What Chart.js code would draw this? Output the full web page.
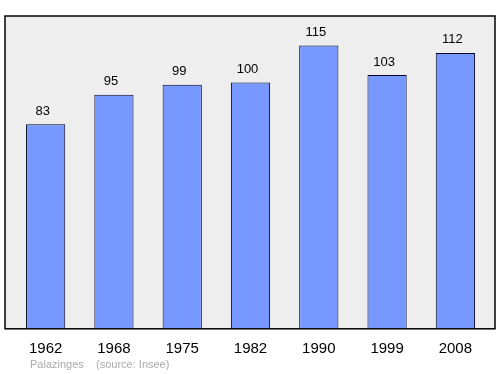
<!DOCTYPE html>
<html><head><meta charset="utf-8">
<script src="https://cdn.jsdelivr.net/npm/chart.js@4/dist/chart.umd.min.js"></script>
<style>html,body{margin:0;padding:0;background:#fff}#c{display:block}</style>
</head><body>
<canvas id="c" width="500" height="374"></canvas>
<script>
const years = ["1962","1968","1975","1982","1990","1999","2008"];
const population = [83, 95, 99, 100, 115, 103, 112];
const footerText = "Palazinges    (source: Insee)";

const framePlugin = {
  id: 'frame',
  beforeDraw(chart) {
    const {ctx, chartArea:a} = chart;
    ctx.save();
    ctx.fillStyle = '#eeeeee';
    ctx.fillRect(a.left - 6.5, a.top, a.right - a.left + 12, a.bottom - a.top + 0.5);
    ctx.restore();
  },
  afterDatasetsDraw(chart) {
    const {ctx, chartArea:a} = chart;
    ctx.save();
    ctx.strokeStyle = '#000';
    ctx.lineWidth = 1.5;
    ctx.strokeRect(a.left - 6.5, a.top, a.right - a.left + 12, a.bottom - a.top + 0.5);
    const meta = chart.getDatasetMeta(0);
    ctx.fillStyle = '#000';
    ctx.font = '13px "Liberation Sans", Arial, sans-serif';
    ctx.textAlign = 'center';
    ctx.textBaseline = 'middle';
    meta.data.forEach((el, i) => {
      ctx.fillText(String(population[i]), el.x - 3, el.y - 13);
    });
    ctx.fillStyle = '#aaaaaa';
    ctx.font = '11px "Liberation Sans", Arial, sans-serif';
    ctx.textAlign = 'left';
    ctx.fillText(footerText, 30, 365);
    ctx.restore();
  }
};

new Chart(document.getElementById('c'), {
  type: 'bar',
  data: {
    labels: years,
    datasets: [{
      data: population,
      backgroundColor: '#7799ff',
      borderColor: '#000022',
      borderWidth: 1,
      barPercentage: 0.574,
      categoryPercentage: 1
    }]
  },
  options: {
    responsive: false,
    animation: false,
    layout: { padding: { left: 11.5, right: 10.5, top: 16, bottom: 4.7 } },
    plugins: { legend: { display: false }, tooltip: { enabled: false } },
    scales: {
      x: {
        grid: { display: false, drawTicks: false },
        border: { display: false },
        ticks: { color: '#000', padding: 11.5, font: { size: 15, family: '"Liberation Sans", Arial, sans-serif' } }
      },
      y: {
        display: false,
        min: 0,
        max: 127
      }
    }
  },
  plugins: [framePlugin]
});
</script>
</body></html>
